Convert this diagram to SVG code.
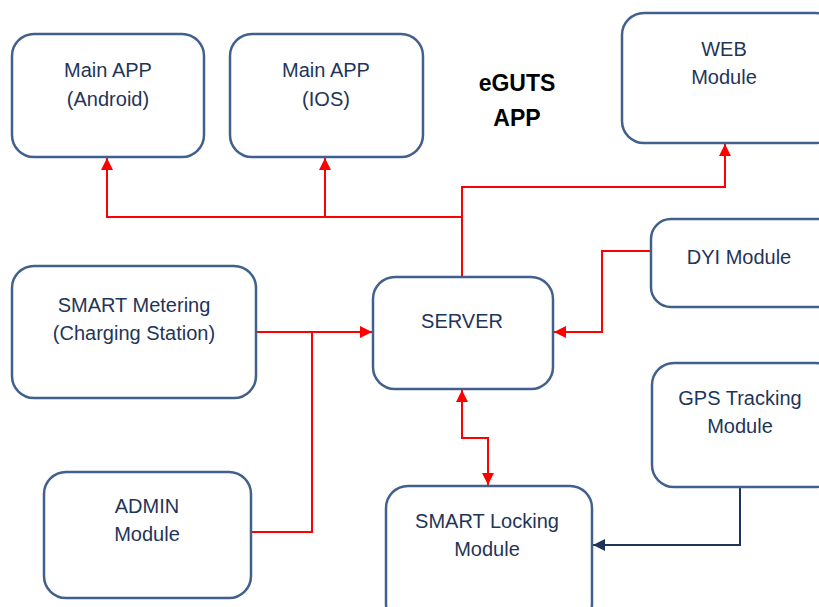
<svg xmlns="http://www.w3.org/2000/svg" width="819" height="607" viewBox="0 0 819 607">
<defs>
<style>
.box{fill:#fff;stroke:#41618c;stroke-width:2.5}
.t{font-family:"Liberation Sans",Arial,sans-serif;font-size:20px;fill:#1f3558;text-anchor:middle}
.title{font-family:"Liberation Sans",Arial,sans-serif;font-size:23px;font-weight:bold;fill:#000;text-anchor:middle}
.red{fill:none;stroke:#ff0000;stroke-width:2}
.dark{fill:none;stroke:#1f3558;stroke-width:2}
</style>
<marker id="ar" viewBox="0 0 10 10" refX="10" refY="5" markerWidth="6" markerHeight="6" orient="auto-start-reverse" markerUnits="strokeWidth"><path d="M0,0L10,5L0,10z" fill="#ff0000"/></marker>
<marker id="ad" viewBox="0 0 10 10" refX="10" refY="5" markerWidth="6" markerHeight="6" orient="auto" markerUnits="strokeWidth"><path d="M0,0L10,5L0,10z" fill="#1f3558"/></marker>
</defs>
<rect width="819" height="607" fill="#fff"/>
<g id="connectors">
<path class="red" d="M462,277V187H725V144" marker-end="url(#ar)"/>
<path class="red" d="M462,217H107V158" marker-end="url(#ar)"/>
<path class="red" d="M325,217V158" marker-end="url(#ar)"/>
<path class="red" d="M651,251H602V332H554" marker-end="url(#ar)"/>
<path class="red" d="M256,332H372" marker-end="url(#ar)"/>
<path class="red" d="M251,532H312V332"/>
<path class="red" d="M462,390V438H488V485" marker-start="url(#ar)" marker-end="url(#ar)"/>
<path class="dark" d="M740,487V545H593" marker-end="url(#ad)"/>
</g>
<g id="android"><rect class="box" x="12" y="34" width="192" height="123" rx="22"/><text class="t" x="108" y="77">Main APP</text><text class="t" x="108" y="106">(Android)</text></g>
<g id="ios"><rect class="box" x="230" y="34" width="193" height="123" rx="22"/><text class="t" x="326" y="77">Main APP</text><text class="t" x="326" y="106">(IOS)</text></g>
<g id="title"><text class="title" x="517" y="91">eGUTS</text><text class="title" x="517" y="126">APP</text></g>
<g id="web"><rect class="box" x="622" y="13" width="215" height="130" rx="22"/><text class="t" x="724" y="56">WEB</text><text class="t" x="724" y="84">Module</text></g>
<g id="dyi"><rect class="box" x="651" y="219" width="186" height="88" rx="20"/><text class="t" x="739" y="264">DYI Module</text></g>
<g id="server"><rect class="box" x="373" y="277" width="180" height="112" rx="22"/><text class="t" x="462" y="328">SERVER</text></g>
<g id="metering"><rect class="box" x="12" y="266" width="244" height="132" rx="22"/><text class="t" x="134" y="312">SMART Metering</text><text class="t" x="134" y="340">(Charging Station)</text></g>
<g id="admin"><rect class="box" x="44" y="472" width="207" height="126" rx="22"/><text class="t" x="147" y="513">ADMIN</text><text class="t" x="147" y="541">Module</text></g>
<g id="gps"><rect class="box" x="652" y="363" width="185" height="124" rx="22"/><text class="t" x="740" y="405">GPS Tracking</text><text class="t" x="740" y="433">Module</text></g>
<g id="locking"><rect class="box" x="386" y="486" width="206" height="140" rx="22"/><text class="t" x="487" y="528">SMART Locking</text><text class="t" x="487" y="556">Module</text></g>
</svg>
